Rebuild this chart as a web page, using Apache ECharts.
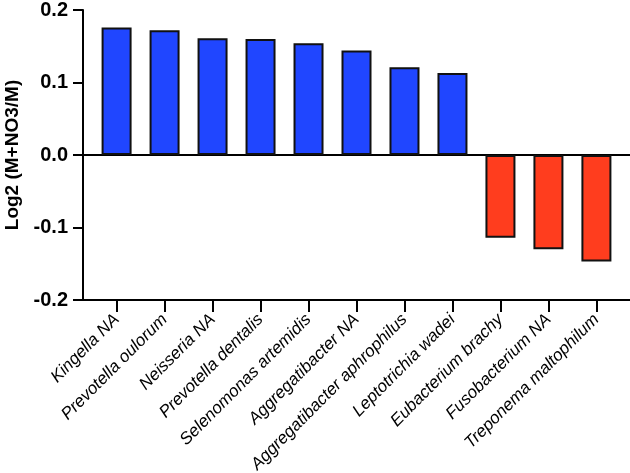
<!DOCTYPE html>
<html>
<head>
<meta charset="utf-8">
<script src="https://cdn.jsdelivr.net/npm/echarts@6/dist/echarts.min.js"></script>
<style>
  html, body { margin: 0; padding: 0; background: #fff; }
  #chart { width: 630px; height: 473px; }
</style>
</head>
<body>
<div id="chart"></div>
<script>
// species on the x axis
const species = [
  'Kingella NA', 'Prevotella oulorum', 'Neisseria NA', 'Prevotella dentalis',
  'Selenomonas artemidis', 'Aggregatibacter NA', 'Aggregatibacter aphrophilus',
  'Leptotrichia wadei', 'Eubacterium brachy', 'Fusobacterium NA', 'Treponema maltophilum'
]
// log2 fold change
const log2Values = [0.176, 0.172, 0.161, 0.160, 0.154, 0.144, 0.121, 0.113, -0.114, -0.130, -0.147]
const yTicks = [-0.2, -0.1, 0.0, 0.1, 0.2]

const positions = species.map((_, i) => i)
const chart = echarts.init(document.getElementById('chart'))

chart.setOption({
  animation: false,
  grid: { left: 83, right: 0, top: 10, bottom: 173, outerBoundsMode: 'none', containLabel: false },
  xAxis: [
    {
      type: 'value',
      min: -0.7,
      max: 10.7,
      splitLine: { show: false },
      axisLine: { show: true, onZero: false, lineStyle: { color: '#000', width: 2 } },
      axisTick: { show: true, customValues: positions, length: 12, lineStyle: { color: '#000', width: 2 } },
      axisLabel: {
        customValues: positions,
        formatter: v => species[Math.round(v)],
        rotate: 45,
        margin: 17,
        color: '#000',
        fontStyle: 'italic',
        fontSize: 17,
        fontFamily: 'Liberation Sans, Arial, sans-serif'
      }
    },
    {
      // line along y = 0
      type: 'value',
      min: -0.7,
      max: 10.7,
      position: 'bottom',
      splitLine: { show: false },
      axisLine: { show: true, onZero: true, onZeroAxisIndex: 0, lineStyle: { color: '#000', width: 2 } },
      axisTick: { show: false },
      axisLabel: { show: false }
    }
  ],
  yAxis: {
    type: 'value',
    min: yTicks[0],
    max: yTicks[yTicks.length - 1],
    interval: 0.1,
    name: 'Log2 (M+NO3/M)',
    nameLocation: 'middle',
    nameGap: 58,
    nameTextStyle: { color: '#000', fontSize: 19, fontWeight: 'bold', fontFamily: 'Liberation Sans, Arial, sans-serif' },
    splitLine: { show: false },
    axisLine: { show: true, onZero: false, lineStyle: { color: '#000', width: 2 } },
    axisTick: { show: true, length: 10, lineStyle: { color: '#000', width: 2 } },
    axisLabel: {
      formatter: v => v.toFixed(1),
      margin: 15,
      color: '#000',
      fontSize: 20,
      fontWeight: 'bold',
      fontFamily: 'Liberation Sans, Arial, sans-serif'
    }
  },
  series: [{
    type: 'bar',
    xAxisIndex: 0,
    barWidth: 30,
    data: log2Values.map((v, i) => [i, v]),
    itemStyle: {
      color: p => p.value[1] >= 0 ? '#2046FF' : '#FF3D1E',
      borderColor: '#111',
      borderWidth: 2
    }
  }]
})
</script>
</body>
</html>
